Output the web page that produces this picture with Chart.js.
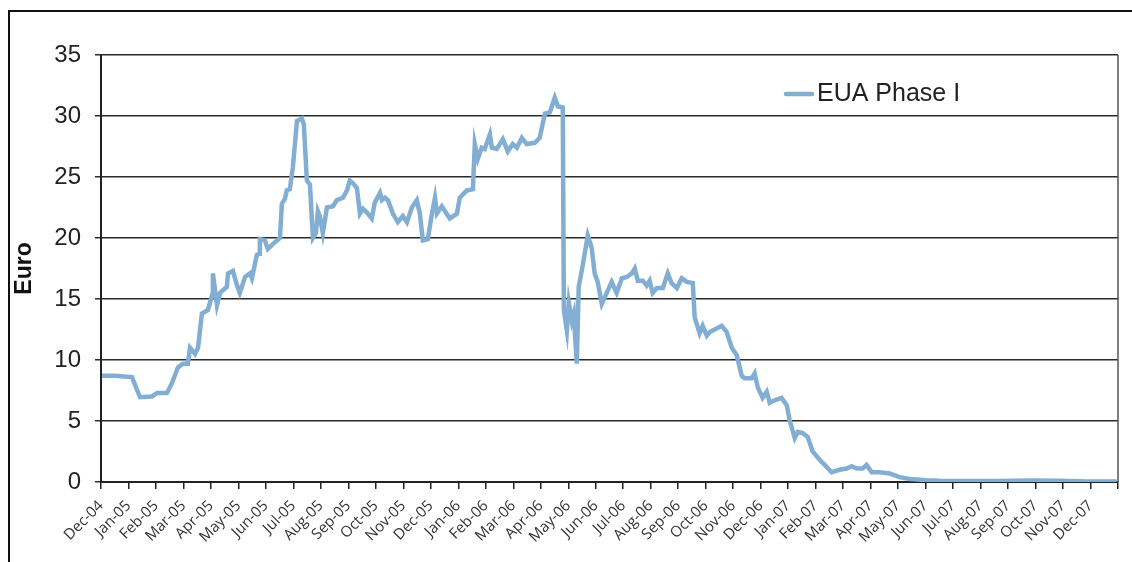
<!DOCTYPE html>
<html lang="en">
  <head>
    <meta charset="UTF-8" />
    <title>EUA Phase I</title>
    <script src="https://cdn.jsdelivr.net/npm/chart.js"></script>
    <style>
      html, body { margin: 0; padding: 0; background: #fff; }
      #wrap { position: relative; width: 1132px; height: 562px; overflow: hidden; }
      /* outer frame, only left and top edges are visible */
      #frame {
        position: absolute; left: 8px; top: 10px; width: 1200px; height: 600px;
        border-left: 2px solid #111; border-top: 2px solid #111;
      }
      #euaChart { position: absolute; left: 0; top: 0; }
    </style>
  </head>
  <body>
    <div id="wrap">
      <div id="frame"></div>
      <canvas id="euaChart" width="1132" height="562"></canvas>
    </div>

    <script>
      // month labels, one per tick starting at Dec-04
      const monthLabels = [
        "Dec-04",
        "Jan-05", "Feb-05", "Mar-05", "Apr-05", "May-05", "Jun-05",
        "Jul-05", "Aug-05", "Sep-05", "Oct-05", "Nov-05", "Dec-05",
        "Jan-06", "Feb-06", "Mar-06", "Apr-06", "May-06", "Jun-06",
        "Jul-06", "Aug-06", "Sep-06", "Oct-06", "Nov-06", "Dec-06",
        "Jan-07", "Feb-07", "Mar-07", "Apr-07", "May-07", "Jun-07",
        "Jul-07", "Aug-07", "Sep-07", "Oct-07", "Nov-07", "Dec-07",
      ];

      const seriesName = "EUA Phase I";

      // position in months since start of Dec-04
      const priceMonths = [
        0.04, 0.5, 1.13, 1.3, 1.42, 1.85, 2.04, 2.4, 2.58, 2.8,
        2.98, 3.16, 3.24, 3.42, 3.53, 3.67, 3.89, 4.04, 4.07, 4.22,
        4.33, 4.58, 4.62, 4.8, 4.95, 5.05, 5.24, 5.42, 5.49, 5.67,
        5.75, 5.78, 5.96, 6.07, 6.25, 6.51, 6.58, 6.69, 6.76, 6.87,
        6.98, 7.13, 7.31, 7.38, 7.49, 7.6, 7.71, 7.82, 7.89, 7.96,
        8.07, 8.22, 8.44, 8.58, 8.8, 8.95, 9.05, 9.16, 9.31, 9.42,
        9.53, 9.67, 9.85, 9.96, 10.15, 10.22, 10.33, 10.44, 10.62, 10.8,
        10.98, 11.13, 11.31, 11.49, 11.6, 11.71, 11.89, 12.04, 12.15, 12.22,
        12.4, 12.69, 12.95, 13.05, 13.31, 13.53, 13.6, 13.71, 13.85, 13.96,
        14.15, 14.22, 14.4, 14.62, 14.8, 14.98, 15.13, 15.31, 15.49, 15.78,
        15.96, 16.15, 16.33, 16.51, 16.62, 16.8, 16.84, 16.95, 17.02, 17.13,
        17.2, 17.31, 17.38, 17.49, 17.71, 17.85, 17.96, 18.07, 18.22, 18.4,
        18.58, 18.76, 18.95, 19.13, 19.31, 19.42, 19.53, 19.71, 19.85, 19.96,
        20.07, 20.22, 20.44, 20.62, 20.76, 20.95, 21.13, 21.31, 21.53, 21.6,
        21.78, 21.89, 22.04, 22.15, 22.58, 22.76, 22.95, 23.13, 23.31, 23.42,
        23.67, 23.78, 23.89, 24.07, 24.22, 24.33, 24.51, 24.76, 24.95, 25.05,
        25.24, 25.35, 25.53, 25.71, 25.89, 26.15, 26.33, 26.58, 26.87, 27.13,
        27.31, 27.49, 27.71, 27.85, 28.04, 28.33, 28.69, 29.05, 29.42, 30.04,
        30.51, 31.6, 32.69, 33.78, 34.87, 35.96, 36.95,
      ];

      // price in euro at each position above
      const priceValues = [
        8.7, 8.7, 8.6, 7.6, 6.95, 7.0, 7.3, 7.3, 8.1, 9.4,
        9.7, 9.7, 11.0, 10.5, 11.0, 13.8, 14.1, 15.3, 17.1, 14.5,
        15.5, 16.0, 17.1, 17.3, 16.1, 15.5, 16.8, 17.1, 16.7, 18.6,
        18.7, 19.9, 19.8, 19.1, 19.5, 20.0, 22.8, 23.2, 23.9, 24.0,
        25.8, 29.6, 29.8, 29.3, 24.7, 24.4, 20.0, 20.4, 22.2, 21.8,
        20.4, 22.5, 22.6, 23.1, 23.3, 23.9, 24.7, 24.5, 24.1, 22.0,
        22.4, 22.1, 21.6, 22.9, 23.7, 23.1, 23.3, 23.1, 22.0, 21.3,
        21.8, 21.3, 22.5, 23.1, 22.0, 19.8, 19.9, 22.0, 23.3, 22.0,
        22.6, 21.6, 22.0, 23.3, 23.9, 24.0, 27.7, 26.5, 27.4, 27.3,
        28.5, 27.4, 27.3, 28.1, 27.1, 27.7, 27.4, 28.2, 27.7, 27.8,
        28.2, 30.2, 30.3, 31.5, 30.8, 30.7, 14.1, 12.4, 14.7, 13.2,
        13.8, 9.7, 16.0, 17.3, 20.2, 19.2, 17.1, 16.4, 14.6, 15.5,
        16.4, 15.5, 16.7, 16.8, 17.1, 17.5, 16.5, 16.5, 16.1, 16.5,
        15.5, 15.9, 15.9, 17.1, 16.3, 15.9, 16.7, 16.4, 16.3, 13.5,
        12.2, 12.8, 12.0, 12.3, 12.8, 12.3, 11.0, 10.4, 8.7, 8.5,
        8.5, 8.9, 7.8, 6.9, 7.4, 6.5, 6.7, 6.9, 6.3, 5.1,
        3.6, 4.1, 4.0, 3.7, 2.5, 1.8, 1.4, 0.8, 1.0, 1.1,
        1.3, 1.1, 1.1, 1.4, 0.8, 0.8, 0.7, 0.4, 0.25, 0.15,
        0.1, 0.08, 0.08, 0.12, 0.1, 0.05, 0.05,
      ];

      const lineColor = "#82aed3";

      // right edge of the plot frame + legend inside the plot
      const extras = {
        id: "extras",
        afterDraw(chart) {
          const ctx = chart.ctx;
          const area = chart.chartArea;
          ctx.save();
          ctx.strokeStyle = "#555";
          ctx.lineWidth = 1.5;
          ctx.beginPath();
          ctx.moveTo(area.right, area.top);
          ctx.lineTo(area.right, area.bottom);
          ctx.stroke();

          // legend
          ctx.strokeStyle = lineColor;
          ctx.lineWidth = 4.5;
          ctx.lineCap = "round";
          ctx.beginPath();
          ctx.moveTo(786, 94);
          ctx.lineTo(812, 94);
          ctx.stroke();
          ctx.fillStyle = "#222";
          ctx.font = "25px 'Liberation Sans', Arial, sans-serif";
          ctx.textBaseline = "middle";
          ctx.textAlign = "left";
          ctx.fillText(chart.data.datasets[0].label, 817, 94);
          ctx.restore();
        },
      };

      new Chart(document.getElementById("euaChart"), {
        type: "line",
        data: {
          datasets: [
            {
              label: seriesName,
              data: priceMonths.map((m, i) => ({ x: m, y: priceValues[i] })),
              borderColor: lineColor,
              borderWidth: 4.5,
              pointRadius: 0,
              tension: 0,
              fill: false,
            },
          ],
        },
        options: {
          responsive: false,
          animation: false,
          layout: { padding: { top: 55, right: 14, left: 0, bottom: 0 } },
          plugins: {
            legend: { display: false },
            tooltip: { enabled: false },
          },
          scales: {
            x: {
              type: "linear",
              min: 0,
              max: monthLabels.length,
              afterFit: (s) => {
                s.height = 80;
                s.paddingLeft = 0;
                s.paddingRight = 0;
              },
              afterBuildTicks: (s) => {
                s.ticks = monthLabels.map((_, i) => ({ value: i }))
                  .concat([{ value: monthLabels.length }]);
              },
              grid: {
                drawOnChartArea: false,
                drawTicks: true,
                tickLength: 7,
                color: "#222",
                lineWidth: 1.5,
              },
              border: { color: "#222", width: 2 },
              ticks: {
                autoSkip: false,
                minRotation: 45,
                maxRotation: 45,
                padding: 8,
                color: "#333",
                font: { family: "'Open Sans', sans-serif", size: 15 },
                callback: (v) => monthLabels[v] ?? "",
              },
            },
            y: {
              min: 0,
              max: 35,
              afterFit: (s) => { s.width = 101; },
              grid: { color: "#2a2a2a", lineWidth: 1.5, tickLength: 6 },
              border: { color: "#222", width: 2 },
              ticks: {
                stepSize: 5,
                padding: 14,
                color: "#222",
                font: { family: "'Liberation Sans', Arial, sans-serif", size: 24 },
              },
              title: {
                display: true,
                text: "Euro",
                color: "#111",
                padding: { top: 11, bottom: 0 },
                font: { family: "'Liberation Sans', Arial, sans-serif", size: 23, weight: "bold" },
              },
            },
          },
        },
        plugins: [extras],
      });
    </script>
  </body>
</html>
